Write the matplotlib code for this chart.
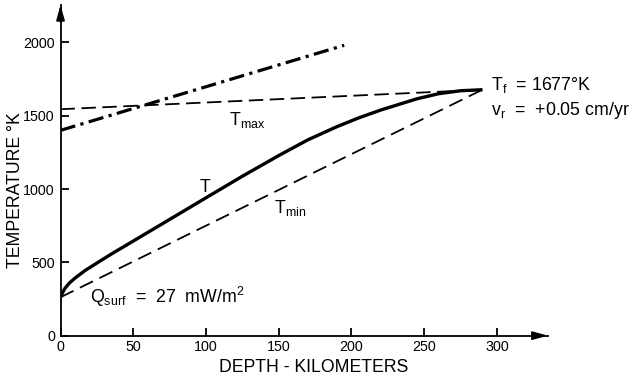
import matplotlib
matplotlib.use("Agg")
import matplotlib.pyplot as plt
import numpy as np

plt.rcParams['font.family'] = ['Liberation Sans', 'DejaVu Sans']

# Data
depth_T = [0, 1, 3, 6, 10, 17, 25, 35, 50, 100, 125, 150, 170, 190, 205, 220, 245, 260, 275, 290]
temp_T = [262, 285, 322, 358, 393, 445, 495, 557, 645, 940, 1087, 1228, 1335, 1425, 1485,
          1538, 1615, 1650, 1670, 1677]

depth_tmax = [0, 290]
temp_tmax = [1544, 1677]

depth_tmin = [0, 290]
temp_tmin = [262, 1677]

depth_dd = [0, 195]
temp_dd = [1400, 1980]

xticks = [0, 50, 100, 150, 200, 250, 300]
yticks = [0, 500, 1000, 1500, 2000]

fig = plt.figure(figsize=(6.37, 3.81), dpi=100)
ax = fig.add_axes([0.095, 0.119, 0.765, 0.868])
ax.set_xlim(0, 335)
ax.set_ylim(0, 2255)

ax.plot(depth_T, temp_T, color='black', lw=2.4, solid_joinstyle='round',
        solid_capstyle='butt')
ax.plot(depth_tmax, temp_tmax, color='black', lw=1.3, dashes=(8, 3.6))
ax.plot(depth_tmin, temp_tmin, color='black', lw=1.3, dashes=(8, 4))
ax.plot(depth_dd, temp_dd, color='black', lw=2.3, dashes=(4.8, 1.7, 1.0, 1.7))

for s in ['top', 'right']:
    ax.spines[s].set_visible(False)
for s in ['left', 'bottom']:
    ax.spines[s].set_linewidth(1.3)

ax.set_xticks(xticks)
ax.set_yticks(yticks)
ax.tick_params(direction='in', length=6, width=1.3, labelsize=10.3)
ax.tick_params(axis='x', pad=3)
ax.tick_params(axis='y', pad=4)

# axis arrows
ax.annotate('', xy=(1.0, 0), xytext=(0.97, 0), xycoords='axes fraction',
            arrowprops=dict(arrowstyle='-|>,head_length=0.9,head_width=0.25',
                            color='black', lw=1.3, shrinkA=0, shrinkB=0))
ax.annotate('', xy=(0, 1.0), xytext=(0, 0.95), xycoords='axes fraction',
            arrowprops=dict(arrowstyle='-|>,head_length=0.9,head_width=0.25',
                            color='black', lw=1.3, shrinkA=0, shrinkB=0))

ax.set_xlabel('DEPTH - KILOMETERS', fontsize=12.7)
ax.set_ylabel('TEMPERATURE °K', fontsize=12.7)
ax.xaxis.set_label_coords(0.52, -0.07)
ax.yaxis.set_label_coords(-0.075, 0.44)

fs = 12.8
ax.text(95.5, 980, 'T', fontsize=fs, ha='left', va='baseline')
ax.text(116, 1436, r'T$_{\mathregular{max}}$', fontsize=fs, ha='left', va='baseline')
ax.text(147, 837, r'T$_{\mathregular{min}}$', fontsize=fs, ha='left', va='baseline')
ax.text(20, 223, r'Q$_{\mathregular{surf}}$  =  27  mW/m$^{\mathregular{2}}$', fontsize=fs,
        ha='left', va='baseline')
ax.text(296, 1676, r'T$_{\mathregular{f}}$  = 1677°K', fontsize=fs, ha='left', va='baseline')
ax.text(296, 1506, r'v$_{\mathregular{r}}$  =  +0.05 cm/yr', fontsize=fs, ha='left', va='baseline')

fig.savefig('out.png', dpi=100)
